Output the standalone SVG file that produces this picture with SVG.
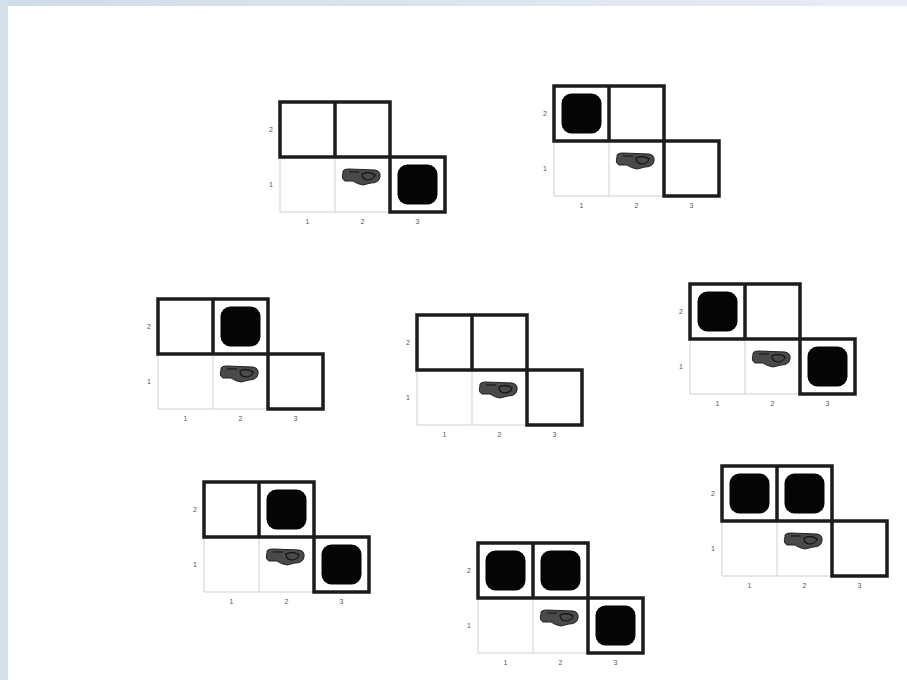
<svg xmlns="http://www.w3.org/2000/svg" width="907" height="680" viewBox="0 0 907 680">
<style>
.bold{fill:none;stroke:#1c1c1c;stroke-width:3.5}
.light{fill:none;stroke:#cfcfcf;stroke-width:1}
.blk{fill:#050505}
.lbl{font-family:"Liberation Sans",Arial,sans-serif;font-size:7px;fill:#555;text-anchor:middle}
</style>
<defs>
<linearGradient id="band" x1="0" y1="0" x2="1" y2="0">
<stop offset="0" stop-color="#cfdde8"/>
<stop offset="1" stop-color="#e8ecf5"/>
</linearGradient>
<g id="base">
<path class="light" d="M0 55V110H110V55M55 55V110"/>
<path class="bold" d="M0 0H110V55H0Z M55 0V55 M110 55H165V110H110Z"/>
<text class="lbl" x="-9" y="30">2</text>
<text class="lbl" x="-9" y="85">1</text>
<text class="lbl" x="27.5" y="122">1</text>
<text class="lbl" x="82.5" y="122">2</text>
<text class="lbl" x="137.5" y="122">3</text>
<g transform="translate(61,66)">
<path d="M2 5 Q1 1 8 1 L34 2 Q40 3 39 9 Q38 15 30 15 L22 17 Q16 16 12 13 L4 13 Q0 11 2 5Z" fill="#4a4a4a" stroke="#222" stroke-width="1"/>
<path d="M8 4 L18 4 M21 6 Q28 3 34 7 Q33 12 26 12 Q21 11 21 6Z" fill="none" stroke="#111" stroke-width="1.2"/>
</g>
</g>
<rect id="sq" width="40" height="40" rx="10" class="blk"/>
</defs>
<rect width="907" height="680" fill="#ffffff"/>
<rect x="0" y="0" width="907" height="6" fill="url(#band)"/>
<rect x="0" y="0" width="8" height="680" fill="#d3e0ea"/>
<g id="connectors"></g>
<g id="grid1" transform="translate(280,102)">
<use href="#base"/>
<use href="#sq" x="117.5" y="62.5"/>
</g>
<g id="grid2" transform="translate(554,86)">
<use href="#base"/>
<use href="#sq" x="7.5" y="7.5"/>
</g>
<g id="grid3" transform="translate(158,299)">
<use href="#base"/>
<use href="#sq" x="62.5" y="7.5"/>
</g>
<g id="grid4" transform="translate(417,315)">
<use href="#base"/>
</g>
<g id="grid5" transform="translate(690,284)">
<use href="#base"/>
<use href="#sq" x="7.5" y="7.5"/>
<use href="#sq" x="117.5" y="62.5"/>
</g>
<g id="grid6" transform="translate(204,482)">
<use href="#base"/>
<use href="#sq" x="62.5" y="7.5"/>
<use href="#sq" x="117.5" y="62.5"/>
</g>
<g id="grid7" transform="translate(478,543)">
<use href="#base"/>
<use href="#sq" x="7.5" y="7.5"/>
<use href="#sq" x="62.5" y="7.5"/>
<use href="#sq" x="117.5" y="62.5"/>
</g>
<g id="grid8" transform="translate(722,466)">
<use href="#base"/>
<use href="#sq" x="7.5" y="7.5"/>
<use href="#sq" x="62.5" y="7.5"/>
</g>
</svg>
